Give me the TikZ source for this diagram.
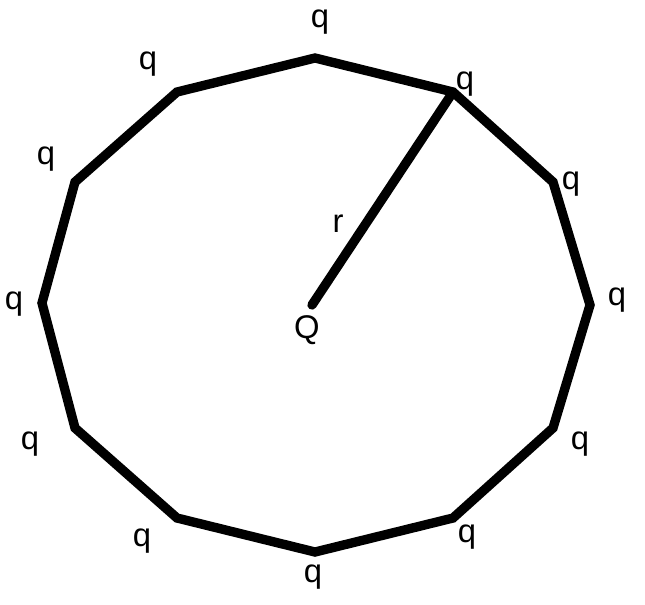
\documentclass[tikz,border=0pt]{standalone}
\usepackage{fontspec}
\setmainfont{Liberation Sans}
\begin{document}
\begin{tikzpicture}[x=0.03cm,y=-0.03cm,
  edge/.style={line width=0.28cm,line join=miter,black},
  radius/.style={line width=0.28cm,line cap=round,black},
  lbl/.style={inner sep=0pt,font=\fontsize{28}{32}\selectfont}]
\useasboundingbox (0,0) rectangle (645,604);
\coordinate (v0) at (315,58);
\coordinate (v1) at (453,92);
\coordinate (v2) at (553,182);
\coordinate (v3) at (590,305);
\coordinate (v4) at (553,428);
\coordinate (v5) at (453,518);
\coordinate (v6) at (315,552);
\coordinate (v7) at (177,518);
\coordinate (v8) at (75,428);
\coordinate (v9) at (42,303);
\coordinate (v10) at (75,182);
\coordinate (v11) at (177,92);
\coordinate (c) at (312,305);
\draw[edge] (v0)--(v1)--(v2)--(v3)--(v4)--(v5)--(v6)--(v7)--(v8)--(v9)--(v10)--(v11)--cycle;
\draw[radius] (c)--(v1);
\node[lbl] (q0) at (320,22) {q};
\node[lbl] (q1) at (465,84) {q};
\node[lbl] (q2) at (571,184) {q};
\node[lbl] (q3) at (617,300) {q};
\node[lbl] (q4) at (580,444) {q};
\node[lbl] (q5) at (467,537) {q};
\node[lbl] (q6) at (313,577) {q};
\node[lbl] (q7) at (142,541) {q};
\node[lbl] (q8) at (30,444) {q};
\node[lbl] (q9) at (14,304) {q};
\node[lbl] (q10) at (46,159) {q};
\node[lbl] (q11) at (148,64) {q};
\node[lbl] (r) at (338,224) {r};
\node[lbl] (Q) at (307,330) {Q};
\end{tikzpicture}
\end{document}
